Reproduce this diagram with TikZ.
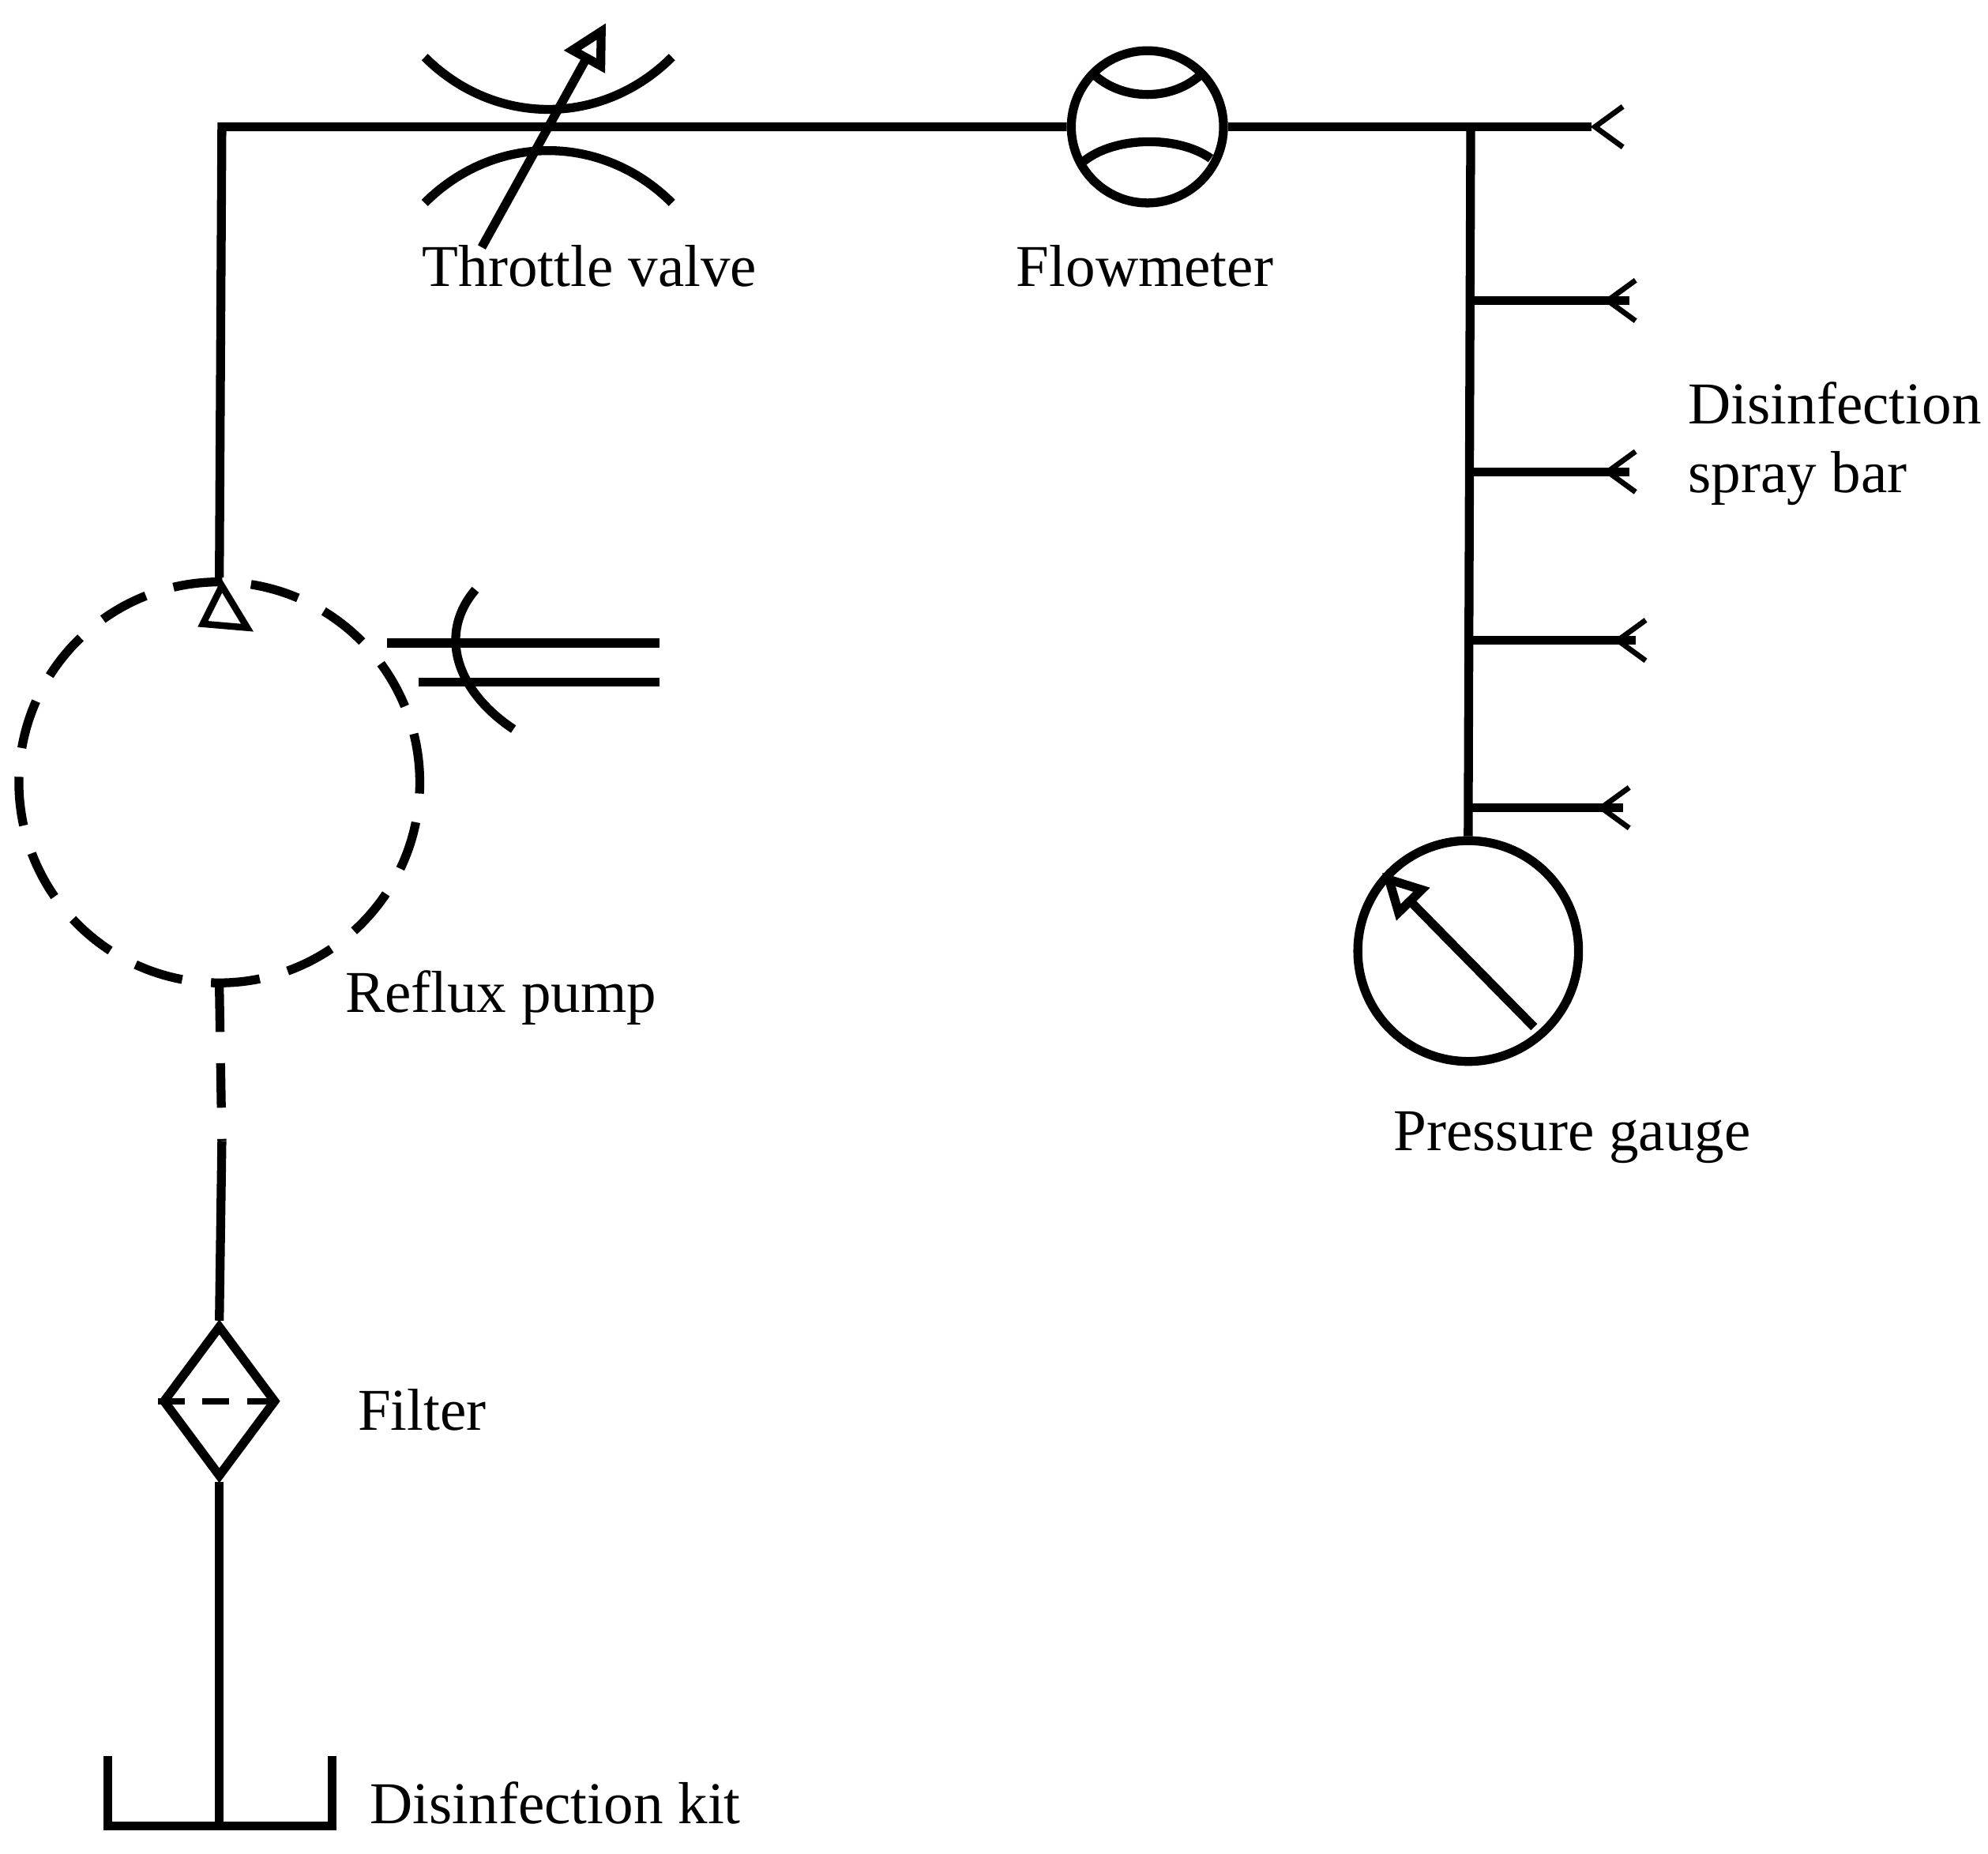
\documentclass[tikz,border=0pt]{standalone}
\usepackage{fontspec}
\setmainfont{Liberation Serif}
\usetikzlibrary{arrows.meta,shapes.geometric}
\begin{document}
\begin{tikzpicture}
  [x=0.01cm,y=-0.01cm,line width=2pt,
   lbl/.style={inner sep=0pt,font=\fontsize{13.3}{15.5}\selectfont},
   nozzle/.style={line width=1.2pt}]
  \useasboundingbox (0,0) rectangle (1568,1462);
  % junction points
  \coordinate (c1) at (175,100);
  \coordinate (c2) at (1160,100);
  \coordinate (e0) at (1255,100);
  \node[circle,draw,inner sep=0pt,minimum size=1.2cm] (fm) at (905,100) {};
  \node[circle,draw,dash pattern=on 11pt off 6.5pt,inner sep=0pt,minimum size=3.16cm] (pump) at (173,617) {};
  \node[circle,draw,inner sep=0pt,minimum size=1.74cm] (pg) at (1158,750) {};
  \node[diamond,draw,inner sep=0pt,minimum width=0.9cm,minimum height=1.2cm] (flt) at (173,1105) {};
  \coordinate (k) at (173,1440);
  \coordinate (d2) at (175,900);

  % main line
  \draw (pump.north) -- (c1) -- (fm.west);
  \draw (fm.east) -- (e0);
  \draw (c2) -- (pg.north);
  \foreach \y/\e in {237/1285,372/1285,505/1290,637/1280}
    \draw (1160,\y) -- (\e,\y);
  \foreach \y/\e in {100/1280,237/1290,372/1290,505/1298,637/1285}
    \draw[nozzle] (\e,\y-16) -- (\e-22,\y) -- (\e,\y+16);
  % throttle valve
  \draw (335,45) .. controls (390,100) and (475,100) .. (530,45);
  \draw (335,160) .. controls (390,105) and (475,105) .. (530,160);
  \draw[-{Triangle[open,length=10pt,width=10pt]}] (380,195) -- (478,18);
  % flowmeter arcs
  \draw (862,58) .. controls (885,80) and (925,80) .. (948,58);
  \draw (855,127) .. controls (880,107) and (930,107) .. (955,125);
  % pump
  \draw[line width=1.5pt] (160,492) -- (175,462) -- (195,495) -- cycle;
  \draw (305,507) -- (520,507);
  \draw (330,538) -- (520,538);
  \draw (375,465) .. controls (345,500) and (360,545) .. (405,575);
  \draw[dash pattern=on 10pt off 7pt] (pump.south) -- (d2);
  \draw (d2) -- (flt.north);
  \draw[line width=1.5pt,dash pattern=on 6pt off 4pt] (flt.west) -- (flt.east);
  \draw (flt.south) -- (k);
  \draw (85,1385) -- (85,1440) -- (262,1440) -- (262,1385);
  % gauge
  \draw[-{Triangle[open,length=10pt,width=10pt]}] (1210,810) -- (1090,688);

  \node[lbl] (l1) at (465,210) {Throttle valve};
  \node[lbl] (l2) at (903,210) {Flowmeter};
  \node[lbl,align=left,anchor=west] (l3) at (1328,350) {Disinfection\\spray bar};
  \node[lbl] (l4) at (395,787) {Reflux pump};
  \node[lbl] (l5) at (1240,897) {Pressure gauge};
  \node[lbl] (l6) at (333,1112) {Filter};
  \node[lbl] (l7) at (438,1422) {Disinfection kit};
\end{tikzpicture}
\end{document}
